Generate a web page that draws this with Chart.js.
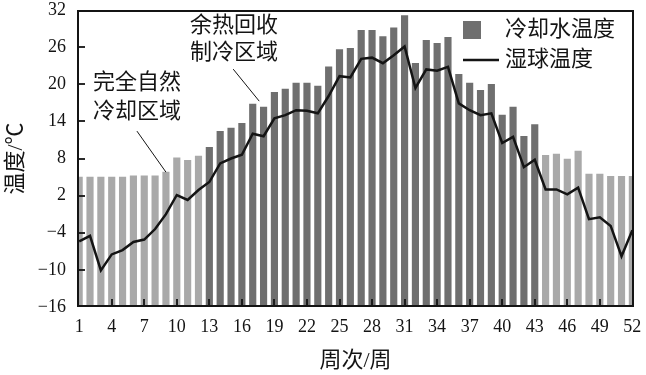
<!DOCTYPE html>
<html>
<head>
<meta charset="utf-8">
<script src="https://cdn.jsdelivr.net/npm/chart.js@4/dist/chart.umd.min.js"></script>
<style>
html,body{margin:0;padding:0;background:#fff;}
canvas{display:block;}
</style>
</head>
<body>
<canvas id="c" width="646" height="375"></canvas>
<script>
// ---- data ----
const weeks = Array.from({length: 52}, (_, i) => i + 1);
const weekTicks = [1, 4, 7, 10, 13, 16, 19, 22, 25, 28, 31, 34, 37, 40, 43, 46, 49, 52];
const yTicks = [-16, -10, -4, 2, 8, 14, 20, 26, 32];
const coolingWater = [5.0,5.0,5.0,5.0,5.0,5.2,5.2,5.2,5.8,8.1,7.7,8.4,9.8,12.4,12.9,13.7,16.8,16.3,
  18.7,19.2,20.2,20.2,19.7,22.8,25.6,25.8,28.7,28.7,27.7,29.1,31.1,
  23.4,27.1,26.6,27.6,21.6,20.2,19.0,20.0,15.0,16.3,11.6,13.5,
  8.5,8.7,7.9,9.2,5.5,5.5,5.1,5.1,5.1];
const wetBulb = [-5.4,-4.5,-10.1,-7.5,-6.8,-5.5,-5.1,-3.4,-1.0,
  2.1,1.3,2.9,4.2,7.2,8.0,8.6,12.0,11.6,
  14.5,15.0,15.8,15.7,15.3,18.1,21.3,21.1,24.1,24.3,23.4,24.7,26.1,
  19.4,22.4,22.2,22.8,16.9,15.8,15.0,15.3,10.5,11.5,6.6,7.8,
  3.0,3.0,2.2,3.3,-1.8,-1.5,-2.9,-7.8,-3.6];
const heatRecoveryWeeks = [13, 43];   // 余热回收制冷区域
const coolingName = '冷却水温度';
const wetBulbName = '湿球温度';
const xTitle = '周次/周';
const yTitle = '温度/℃';
const zoneLabels = [['余热回收', '制冷区域'], ['完全自然', '冷却区域']];

const DARK = '#6f6f6f', LIGHT = '#a9a9a9', INK = '#141414';
const NUM_FONT = '"Liberation Serif", "Times New Roman", serif';
const CJK_FONT = '"Liberation Serif", "Noto Sans CJK SC", serif';

const inZone = w => w >= heatRecoveryWeeks[0] && w <= heatRecoveryWeeks[1];

function drawSeg(ctx, x1, y1, x2, y2) {
  ctx.beginPath(); ctx.moveTo(x1, y1); ctx.lineTo(x2, y2); ctx.stroke();
}

const decor = {
  id: 'decor',
  afterDraw(chart) {
    const {ctx, scales: {x, y}} = chart;
    const L = x.left, R = x.right, T = y.top, B = y.bottom;
    ctx.save();
    ctx.fillStyle = INK;
    ctx.font = '22px ' + CJK_FONT;
    ctx.textBaseline = 'middle';
    ctx.textAlign = 'left';

    // legend
    ctx.fillStyle = DARK;
    ctx.fillRect(463, 21, 18, 18);
    ctx.strokeStyle = INK;
    ctx.lineWidth = 2.5;
    drawSeg(ctx, 463, 60, 499, 60);
    ctx.fillStyle = INK;
    ctx.fillText(coolingName, 505, 30);
    ctx.fillText(wetBulbName, 505, 60);

    // zone annotations with leader lines anchored to data
    ctx.lineWidth = 1;
    const ex1 = x.getPixelForValue(17.6), ey1 = y.getPixelForValue(coolingWater[17]) - 6;
    drawSeg(ctx, ex1 - 26, ey1 - 32, ex1, ey1);
    ctx.fillText(zoneLabels[0][0], 190, 26);
    ctx.fillText(zoneLabels[0][1], 190, 53);
    const ex2 = x.getPixelForValue(9), ey2 = y.getPixelForValue(coolingWater[8]);
    drawSeg(ctx, ex2 - 29, ey2 - 41, ex2, ey2);
    ctx.fillText(zoneLabels[1][0], 93, 83);
    ctx.fillText(zoneLabels[1][1], 93, 112);

    // frame: four segments
    ctx.strokeStyle = INK;
    ctx.lineWidth = 2;
    drawSeg(ctx, L, T + 1, R, T + 1);
    drawSeg(ctx, L, B - 1, R, B - 1);
    drawSeg(ctx, L + 1, T, L + 1, B);
    drawSeg(ctx, R - 1, T, R - 1, B);
    // inward ticks
    ctx.lineWidth = 1.8;
    yTicks.forEach(v => {
      if (v === y.min || v === y.max) return;
      const py = Math.round(y.getPixelForValue(v));
      drawSeg(ctx, L, py, L + 8, py);
    });
    weekTicks.forEach(v => {
      const px = Math.round(x.getPixelForValue(v));
      if (px <= L + 2 || px >= R - 2) return;
      drawSeg(ctx, px, B, px, B - 8);
    });

    // axis titles
    ctx.fillStyle = INK;
    ctx.textAlign = 'center';
    ctx.fillText(xTitle, (L + R) / 2, 361);
    ctx.translate(16, (T + B) / 2);
    ctx.rotate(-Math.PI / 2);
    ctx.fillText(yTitle, 0, 0);
    ctx.restore();
  }
};

const fmt = v => (v < 0 ? '\u2212' + Math.abs(v) : String(v));

new Chart(document.getElementById('c'), {
  data: {
    datasets: [
      {
        type: 'line',
        label: wetBulbName,
        data: weeks.map((w, i) => ({x: w, y: wetBulb[i]})),
        borderColor: INK,
        borderWidth: 2.5,
        pointRadius: 0,
        tension: 0,
        order: 0
      },
      {
        type: 'bar',
        label: coolingName,
        data: weeks.map((w, i) => ({x: w, y: coolingWater[i]})),
        base: yTicks[0],
        backgroundColor: ctx => inZone(weeks[ctx.dataIndex]) ? DARK : LIGHT,
        borderWidth: 0,
        barThickness: 6.5,
        order: 1
      }
    ]
  },
  options: {
    responsive: false,
    devicePixelRatio: 1,
    animation: false,
    layout: {padding: {left: 0, right: 12, top: 10, bottom: 0}},
    plugins: {legend: {display: false}, tooltip: {enabled: false}},
    scales: {
      x: {
        type: 'linear',
        offset: false,
        min: 0.8,
        max: 52.15,
        afterBuildTicks: s => { s.ticks = weekTicks.map(v => ({value: v})); },
        afterFit: s => { s.height = 68; s.paddingLeft = 0; s.paddingRight = 0; },
        grid: {display: false, drawTicks: false, offset: false},
        border: {display: false},
        ticks: {
          autoSkip: false, maxRotation: 0, padding: 9,
          color: INK, font: {family: NUM_FONT, size: 18},
          callback: v => fmt(v)
        }
      },
      y: {
        type: 'linear',
        min: yTicks[0],
        max: yTicks[yTicks.length - 1],
        afterBuildTicks: s => { s.ticks = yTicks.map(v => ({value: v})); },
        afterFit: s => { s.width = 77; s.paddingTop = 0; s.paddingBottom = 0; },
        grid: {display: false, drawTicks: false},
        border: {display: false},
        ticks: {
          padding: 11,
          color: INK, font: {family: NUM_FONT, size: 18},
          callback: v => fmt(v)
        }
      }
    }
  },
  plugins: [decor]
});
</script>
</body>
</html>
